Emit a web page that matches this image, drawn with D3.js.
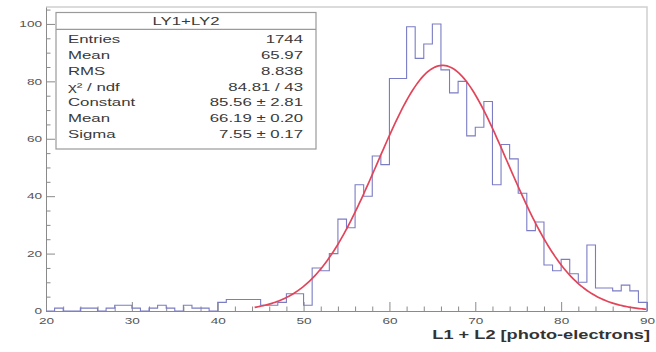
<!DOCTYPE html>
<html>
<head>
<meta charset="utf-8">
<script src="https://cdn.jsdelivr.net/npm/d3@7/dist/d3.min.js"></script>
<style>
    body { margin: 0; background: #fff; }
    svg { display: block; }
    text { font-family: "Liberation Sans", Arial, Helvetica, sans-serif; }
</style>
</head>
<body>
<script>
//histogram bins (lower edge, width 1) and their counts
var binLow = [20,21,22,23,24,25,26,27,28,29,30,31,32,33,34,35,36,37,38,39,
              40,41,42,43,44,45,46,47,48,49,50,51,52,53,54,55,56,57,58,59,
              60,61,62,63,64,65,66,67,68,69,70,71,72,73,74,75,76,77,78,79,
              80,81,82,83,84,85,86,87,88,89];
var counts = [0,1,0,0,1,1,0,1,2,2,1,0,1,2,1,0,2,1,1,0,
              3,4,4,4,4,2,2,3,6,6,2,15,14,20,32,29,44,40,54,51,
              81,81,99,88,93,100,84,76,80,61,64,73,44,58,53,41,28,31,16,14,
              18,13,10,23,8,8,7,9,7,3];

//gaussian fit (constant, mean, sigma) and fitted range
var fitParams = [85.56, 66.19, 7.55];
var fitRange = [44.3, 90];

//axis ticks
var xTicks = [20,30,40,50,60,70,80,90];
var xMinor = [22,24,26,28,32,34,36,38,42,44,46,48,52,54,56,58,62,64,66,68,72,74,76,78,82,84,86,88];
var yTicks = [0,20,40,60,80,100];
var yMinor = [5,10,15,25,30,35,45,50,55,65,70,75,85,90,95,105];

//stats box
var statsTitle = "LY1+LY2";
var statsNames = ["Entries", "Mean", "RMS", "\u03C7\u00B2 / ndf", "Constant", "Mean", "Sigma"];
var statsValues = ["1744", "65.97", "8.838", "84.81 / 43", "85.56 \u00B1 2.81", "66.19 \u00B1 0.20", "7.55 \u00B1 0.17"];

var xTitle = "L1 + L2 [photo-electrons]";

window.onload = drawChart();

function drawChart(){

    var width = 656,
        height = 352;

    //plot frame edges
    var left = 46, right = 647, top = 7, bottom = 311;
    var stretch = 1.6; //the picture is wide, glyphs are stretched

    var svg = d3.select("body")
        .append("svg")
        .attr("width", width)
        .attr("height", height);

    var x = d3.scaleLinear().domain([20, 90]).range([left, right]);
    var y = d3.scaleLinear().domain([0, 105.9]).range([bottom, top]);

    //light frame on top and right
    svg.append("path")
        .attr("d", "M" + left + "," + top + "H" + right + "V" + bottom)
        .attr("fill", "none")
        .attr("stroke", "#cfcfcf")
        .attr("stroke-width", 1.5);

    //minor ticks
    svg.append("g")
        .attr("transform", "translate(0," + bottom + ")")
        .call(d3.axisBottom(x).tickValues(xMinor).tickSize(-4.5).tickFormat(""))
        .call(function(g){ g.select(".domain").remove(); });
    svg.append("g")
        .attr("transform", "translate(" + left + ",0)")
        .call(d3.axisLeft(y).tickValues(yMinor).tickSize(-4.5).tickFormat(""))
        .call(function(g){ g.select(".domain").remove(); });

    //major ticks + labels
    var xAxis = svg.append("g")
        .attr("transform", "translate(0," + bottom + ")")
        .call(d3.axisBottom(x).tickValues(xTicks).tickSize(-9).tickSizeOuter(0).tickPadding(7));
    var yAxis = svg.append("g")
        .attr("transform", "translate(" + left + ",0)")
        .call(d3.axisLeft(y).tickValues(yTicks).tickSize(-9).tickSizeOuter(0).tickPadding(2.5));

    svg.selectAll(".tick line").attr("stroke", "#8a8a8a");
    svg.selectAll(".domain").attr("stroke", "#8a8a8a");
    xAxis.selectAll("text")
        .attr("font-size", 8.5)
        .attr("fill", "#555")
        .attr("transform", "scale(" + stretch + ",1)");
    yAxis.selectAll("text")
        .attr("font-size", 8.5)
        .attr("fill", "#555")
        .attr("transform", "scale(" + stretch + ",1)");

    //histogram outline
    var pts = [[binLow[0], 0]];
    binLow.forEach(function(b, i){
        pts.push([b, counts[i]]);
        pts.push([b + 1, counts[i]]);
    });
    pts.push([binLow[binLow.length - 1] + 1, 0]);

    var line = d3.line()
        .x(function(d){ return x(d[0]); })
        .y(function(d){ return y(d[1]); });

    svg.append("path")
        .datum(pts)
        .attr("d", line)
        .attr("fill", "none")
        .attr("stroke", "#7a7cc4")
        .attr("stroke-width", 1.1);

    //fit curve
    var fit = d3.range(fitRange[0], fitRange[1] + 0.001, 0.2).map(function(v){
        var z = (v - fitParams[1]) / fitParams[2];
        return [v, fitParams[0] * Math.exp(-0.5 * z * z)];
    });
    svg.append("path")
        .datum(fit)
        .attr("d", line)
        .attr("fill", "none")
        .attr("stroke", "#e2455a")
        .attr("stroke-width", 1.7);

    //stats box
    var bx = 56, by = 12.5, bw = 260, bh = 136.5;
    svg.append("rect")
        .attr("x", bx).attr("y", by)
        .attr("width", bw).attr("height", bh)
        .attr("fill", "#fff")
        .attr("stroke", "#9a9a9a")
        .attr("stroke-width", 1.2);
    svg.append("line")
        .attr("x1", bx).attr("x2", bx + bw)
        .attr("y1", 29.3).attr("y2", 29.3)
        .attr("stroke", "#9a9a9a")
        .attr("stroke-width", 1.2);

    stretchText(svg, bx + bw / 2, 24.5, statsTitle, "middle", 10.5);
    statsNames.forEach(function(n, i){
        var yy = 43.2 + i * 15.8;
        stretchText(svg, 68, yy, n, "start", 10.5);
        stretchText(svg, 303, yy, statsValues[i], "end", 10.5);
    });

    //x axis title
    svg.append("g")
        .attr("transform", "translate(650,338.5) scale(1.4,1)")
        .append("text")
        .attr("text-anchor", "end")
        .attr("font-size", 13)
        .attr("font-weight", "bold")
        .attr("fill", "#333")
        .text(xTitle);

    function stretchText(sel, tx, ty, str, anchor, size){
        sel.append("g")
            .attr("transform", "translate(" + tx + "," + ty + ") scale(" + stretch + ",1)")
            .append("text")
            .attr("text-anchor", anchor)
            .attr("font-size", size)
            .attr("fill", "#3a3a3a")
            .text(str);
    }
};
</script>
</body>
</html>
